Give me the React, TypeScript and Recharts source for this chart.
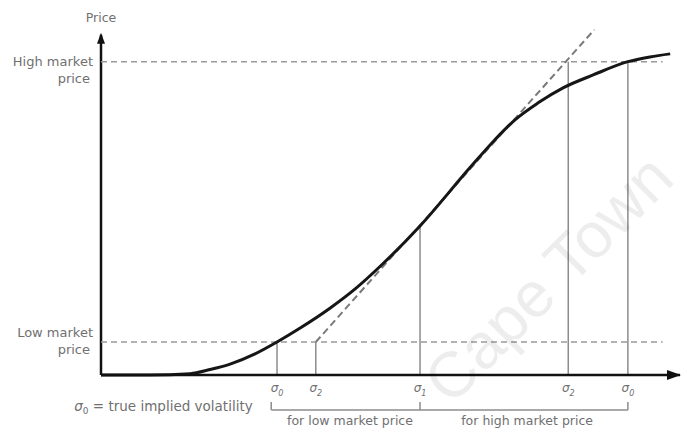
import React from "react";
import {
  ComposedChart,
  Line,
  XAxis,
  YAxis,
  ReferenceLine,
  ReferenceDot,
} from "recharts";

// option price as a function of volatility (0..100 scale on both axes)
const curveX = [0, 8.5, 15.4, 18.8, 22.3, 26.6, 30.4, 34.4, 39.6, 43.9, 48.5, 55.1, 63.7, 68, 71.5, 75.5, 79.8, 85, 91, 94.8, 98.3];
const curveY = [0, 0, 0.4, 1.6, 3.2, 6.2, 9.7, 13.8, 19.7, 25.3, 32.4, 43.8, 60.9, 69.1, 75, 80, 84.4, 88.2, 92.1, 93.5, 94.4];

const lowPrice = 9.7;
const highPrice = 92.1;
const priceLabels = ["Low market", "High market"];

// iterates of the Newton–Raphson search
const sigmaX = [30.4, 37.1, 55.1, 80.7, 91];
const sigmaSub = ["0", "2", "1", "2", "0"];
const sigmaTop = [9.7, 9.7, 43.8, 92.1, 92.1];

const tangentFrom = { x: 37.1, y: 9.7 };
const tangentTo = { x: 85.2, y: 101.5 };

const bracketY = -10.3;
const bracketLabels = ["for low market price", "for high market price"];
const bracketLabelX = [43, 73.6];

const data = curveX.map((x, i) => ({ x, price: curveY[i] }));

const FONT = "'DejaVu Sans', Verdana, sans-serif";
const TEXT = "#707070";

const PriceTick = (props: any) => {
  const { x, y, payload } = props;
  const isHigh = payload.value === highPrice;
  const first = isHigh ? y + 4 : y - 5;
  return (
    <g fontFamily={FONT} fontSize={13} fill={TEXT}>
      <text x={x} y={first} textAnchor="end">
        {isHigh ? priceLabels[1] : priceLabels[0]}
      </text>
      <text x={x - 3} y={first + 17} textAnchor="end">
        price
      </text>
    </g>
  );
};

const SigmaTick = (props: any) => {
  const { x, y, index } = props;
  return (
    <text x={x} y={y + 9} textAnchor="middle" fontFamily={FONT} fontSize={12} fill={TEXT} fontStyle="italic">
      σ
      <tspan fontSize={8} dy={4}>
        {sigmaSub[index]}
      </tspan>
    </text>
  );
};

const UpArrow = (props: any) => {
  const { cx, cy } = props;
  return (
    <g>
      <path d={`M${cx - 4},${cy + 9} L${cx},${cy - 2} L${cx + 4},${cy + 9} Z`} fill="#111" />
      <text x={cx} y={cy - 13} textAnchor="middle" fontFamily={FONT} fontSize={12.5} fill={TEXT}>
        Price
      </text>
    </g>
  );
};

const RightArrow = (props: any) => {
  const { cx, cy } = props;
  return <path d={`M${cx - 13},${cy - 5} L${cx + 1},${cy} L${cx - 13},${cy + 5} Z`} fill="#111" />;
};

const TrueVolLabel = (props: any) => {
  const { cx, cy } = props;
  return (
    <text x={cx} y={cy + 4} textAnchor="end" fontFamily={FONT} fontSize={13.5} fill={TEXT}>
      <tspan fontStyle="italic">σ</tspan>
      <tspan fontSize={9} dy={3}>0</tspan>
      <tspan dy={-3}> = true implied volatility</tspan>
    </text>
  );
};

const BracketLabel = (props: any) => {
  const { cx, cy, text } = props;
  return (
    <text x={cx} y={cy + 15} textAnchor="middle" fontFamily={FONT} fontSize={12.5} fill={TEXT}>
      {text}
    </text>
  );
};

export default function App() {
  return (
    <div style={{ position: "absolute", left: 0, top: 0, width: 691, height: 429, background: "#fff", overflow: "hidden" }}>
      <ComposedChart
        width={691}
        height={429}
        data={data}
        margin={{ top: 28, right: 11, bottom: 0, left: 0 }}
      >
        <XAxis
          dataKey="x"
          type="number"
          domain={[0, 100]}
          ticks={sigmaX}
          tick={<SigmaTick />}
          tickLine={false}
          axisLine={{ stroke: "#111", strokeWidth: 2.5 }}
          height={54}
          interval={0}
        />
        <YAxis
          type="number"
          domain={[0, 102]}
          ticks={[lowPrice, highPrice]}
          tick={<PriceTick />}
          tickLine={false}
          axisLine={false}
          width={101}
          interval={0}
        />
        <ReferenceLine
          segment={[{ x: 0, y: 0 }, { x: 0, y: 100 }]}
          stroke="#111"
          strokeWidth={2.5}
        />
        <ReferenceLine
          segment={[{ x: 0, y: highPrice }, { x: 97, y: highPrice }]}
          stroke="#9a9a9a"
          strokeWidth={1.5}
          strokeDasharray="6 4"
        />
        <ReferenceLine
          segment={[{ x: 0, y: lowPrice }, { x: 97, y: lowPrice }]}
          stroke="#9a9a9a"
          strokeWidth={1.5}
          strokeDasharray="6 4"
        />
        {sigmaX.map((sx, i) => (
          <ReferenceLine
            key={`v-${i}`}
            segment={[{ x: sx, y: 0 }, { x: sx, y: sigmaTop[i] }]}
            stroke="#8c8c8c"
            strokeWidth={1.5}
          />
        ))}
        <ReferenceLine
          segment={[tangentFrom, tangentTo]}
          stroke="#7a7a7a"
          strokeWidth={2}
          strokeDasharray="7 4"
          ifOverflow="visible"
        />
        <Line
          dataKey="price"
          type="monotone"
          stroke="#161616"
          strokeWidth={3}
          dot={false}
          isAnimationActive={false}
        />
        {/* bracket under the axis */}
        <ReferenceLine
          segment={[{ x: sigmaX[0] - 1, y: bracketY }, { x: sigmaX[4], y: bracketY }]}
          stroke="#8c8c8c"
          strokeWidth={1.5}
          ifOverflow="visible"
        />
        {[sigmaX[0] - 1, sigmaX[2], sigmaX[4]].map((bx, i) => (
          <ReferenceLine
            key={`b-${i}`}
            segment={[{ x: bx, y: bracketY }, { x: bx, y: bracketY + 2.4 }]}
            stroke="#8c8c8c"
            strokeWidth={1.5}
            ifOverflow="visible"
          />
        ))}
        {bracketLabels.map((t, i) => (
          <ReferenceDot
            key={`bl-${i}`}
            x={bracketLabelX[i]}
            y={bracketY}
            ifOverflow="visible"
            shape={(p: any) => <BracketLabel {...p} text={t} />}
          />
        ))}
        <ReferenceDot x={26.2} y={bracketY + 1} ifOverflow="visible" shape={<TrueVolLabel />} />
        <ReferenceDot x={0} y={100} ifOverflow="visible" shape={<UpArrow />} />
        <ReferenceDot x={100} y={0} ifOverflow="visible" shape={<RightArrow />} />
      </ComposedChart>
      <div
        style={{
          position: "absolute",
          left: 410,
          top: 366,
          fontFamily: "'Liberation Sans', Arial, sans-serif",
          fontSize: 64,
          lineHeight: "72px",
          color: "rgba(0,0,0,0.07)",
          transform: "rotate(-45deg)",
          transformOrigin: "left top",
          whiteSpace: "nowrap",
          pointerEvents: "none",
        }}
      >
        Cape Town
      </div>
    </div>
  );
}
